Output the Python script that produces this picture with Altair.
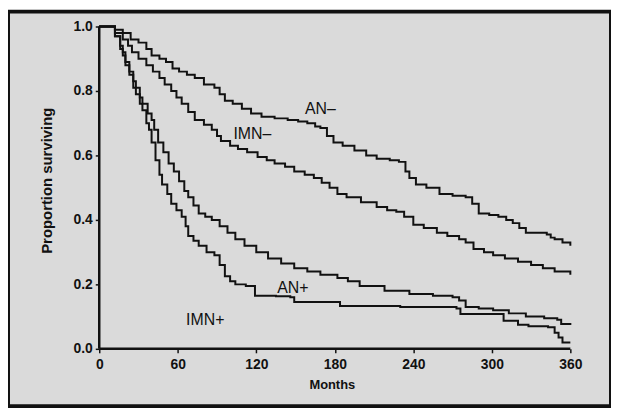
import altair as alt
import pandas as pd

# Kaplan-Meier style curves (months, proportion surviving)
an_minus_m = [0, 8, 12, 18, 24, 30, 36, 40, 46, 51, 56, 61, 67, 73, 80, 88, 92, 96, 102, 109, 116, 124, 134, 144, 152, 159, 165, 169, 174, 179, 186, 195, 204, 212, 222, 229, 234, 237, 242, 250, 260, 270, 280, 285, 290, 298, 305, 311, 316, 321, 326, 334, 342, 345, 348, 354, 360]
an_minus_s = [1.0, 1.0, 0.99, 0.98, 0.96, 0.95, 0.93, 0.91, 0.90, 0.89, 0.87, 0.86, 0.85, 0.84, 0.82, 0.81, 0.79, 0.77, 0.76, 0.745, 0.73, 0.72, 0.715, 0.71, 0.705, 0.70, 0.69, 0.685, 0.66, 0.64, 0.63, 0.615, 0.60, 0.59, 0.585, 0.58, 0.55, 0.53, 0.51, 0.50, 0.48, 0.475, 0.47, 0.45, 0.42, 0.415, 0.41, 0.40, 0.39, 0.375, 0.36, 0.36, 0.355, 0.345, 0.34, 0.33, 0.32]

imn_minus_m = [0, 8, 12, 18, 22, 25, 30, 36, 41, 46, 50, 55, 59, 63, 68, 73, 80, 86, 90, 93, 100, 106, 113, 121, 128, 134, 142, 149, 157, 164, 170, 176, 182, 189, 200, 212, 220, 227, 233, 240, 248, 258, 266, 275, 280, 286, 294, 301, 310, 320, 330, 339, 348, 360]
imn_minus_s = [1.0, 1.0, 0.98, 0.96, 0.94, 0.92, 0.90, 0.88, 0.86, 0.84, 0.82, 0.80, 0.78, 0.76, 0.735, 0.71, 0.695, 0.68, 0.66, 0.645, 0.63, 0.62, 0.61, 0.595, 0.585, 0.575, 0.565, 0.55, 0.54, 0.53, 0.515, 0.50, 0.48, 0.47, 0.455, 0.44, 0.43, 0.425, 0.41, 0.385, 0.375, 0.36, 0.35, 0.34, 0.33, 0.31, 0.30, 0.29, 0.28, 0.27, 0.26, 0.25, 0.24, 0.23]

an_plus_m = [0, 8, 12, 16, 18, 20, 23, 26, 28, 31, 33, 37, 40, 42, 45, 49, 53, 57, 61, 65, 68, 72, 76, 81, 86, 92, 98, 104, 111, 120, 129, 139, 149, 159, 169, 182, 190, 199, 218, 237, 255, 270, 275, 280, 290, 301, 313, 326, 340, 350, 353, 360]
an_plus_s = [1.0, 1.0, 0.97, 0.94, 0.92, 0.89, 0.86, 0.83, 0.81, 0.78, 0.76, 0.73, 0.71, 0.68, 0.64, 0.61, 0.575, 0.55, 0.52, 0.49, 0.47, 0.445, 0.42, 0.41, 0.40, 0.38, 0.36, 0.34, 0.32, 0.30, 0.28, 0.265, 0.25, 0.24, 0.23, 0.22, 0.21, 0.195, 0.18, 0.17, 0.165, 0.16, 0.15, 0.13, 0.125, 0.12, 0.11, 0.10, 0.095, 0.09, 0.077, 0.074]

imn_plus_m = [0, 8, 12, 16, 18, 20, 23, 26, 28, 31, 33, 36, 38, 40, 43, 46, 48, 52, 55, 59, 63, 66, 68, 72, 76, 82, 88, 92, 96, 100, 104, 112, 119, 135, 146, 149, 175, 184, 230, 273, 276, 305, 309, 320, 328, 343, 348, 351, 354, 360]
imn_plus_s = [1.0, 1.0, 0.97, 0.93, 0.91, 0.88, 0.85, 0.81, 0.79, 0.76, 0.74, 0.70, 0.68, 0.64, 0.585, 0.54, 0.51, 0.48, 0.45, 0.43, 0.41, 0.38, 0.35, 0.335, 0.32, 0.30, 0.29, 0.26, 0.225, 0.21, 0.20, 0.195, 0.165, 0.163, 0.16, 0.145, 0.145, 0.133, 0.13, 0.125, 0.108, 0.108, 0.087, 0.075, 0.07, 0.067, 0.05, 0.035, 0.02, 0.02]

label_text = ["AN\u2013", "IMN\u2013", "AN+", "IMN+"]
label_m = [169, 117, 148, 81]
label_s = [0.745, 0.667, 0.19, 0.09]

x_ticks = [0, 60, 120, 180, 240, 300, 360]
y_ticks = [0.0, 0.2, 0.4, 0.6, 0.8, 1.0]

rows = []
for name, ms, ss in [("AN-", an_minus_m, an_minus_s), ("IMN-", imn_minus_m, imn_minus_s),
                     ("AN+", an_plus_m, an_plus_s), ("IMN+", imn_plus_m, imn_plus_s)]:
    for m, s in zip(ms, ss):
        rows.append({"series": name, "month": m, "surv": s})
curves = pd.DataFrame(rows)
labels = pd.DataFrame({"text": label_text, "month": label_m, "surv": label_s})

W, H = 608, 398
x0_px, x1_px = 92, 567      # pixel positions of month 0 and 360 inside the view
y1_px, y0_px = 15, 340      # pixel positions of 1.0 and 0.0 inside the view
kx = (x1_px - x0_px) / 360.0
ky = (y0_px - y1_px) / 1.0
xdom = [-x0_px / kx, (W - x0_px) / kx]
ydom = [-(H - y0_px) / ky, 1.0 + y1_px / ky]

FONT = "Liberation Sans"
INK = "#111111"

xscale = alt.Scale(domain=xdom, nice=False, zero=False)
yscale = alt.Scale(domain=ydom, nice=False, zero=False)

xaxis = alt.Axis(values=x_ticks, format="d", title="Months", domain=False, grid=False,
                 offset=-(H - y0_px), tickSize=4, tickWidth=1.5, tickColor=INK,
                 labelFont=FONT, labelFontSize=14, labelFontWeight="bold", labelColor=INK,
                 labelPadding=5, titleFont=FONT, titleFontSize=13, titleFontWeight="bold",
                 titleColor=INK, titlePadding=7, titleX=(x0_px + x1_px) / 2 - 3,
                 titleAlign="center")
yaxis = alt.Axis(values=y_ticks, format=".1f", title="Proportion surviving", domain=False,
                 grid=False, offset=-x0_px, tickSize=4, tickWidth=1.5, tickColor=INK,
                 labelFont=FONT, labelFontSize=14, labelFontWeight="bold", labelColor=INK,
                 labelPadding=3, titleFont=FONT, titleFontSize=15, titleFontWeight="bold",
                 titleColor=INK, titleX=-53, titleY=170, titleAlign="center",
                 titleBaseline="middle", titleAngle=270)

lines = alt.Chart(curves).mark_line(interpolate="step-after", color=INK, strokeWidth=2).encode(
    x=alt.X("month:Q", scale=xscale, axis=xaxis),
    y=alt.Y("surv:Q", scale=yscale, axis=yaxis),
    detail="series:N",
)

yline = alt.Chart(pd.DataFrame({"x": [0], "y": [0.0], "y2": [1.0]})).mark_rule(
    color=INK, strokeWidth=2.5).encode(
    x=alt.X("x:Q", scale=xscale), y=alt.Y("y:Q", scale=yscale), y2="y2:Q")
xline = alt.Chart(pd.DataFrame({"x": [0], "x2": [360], "y": [0.0]})).mark_rule(
    color=INK, strokeWidth=2.5).encode(
    x=alt.X("x:Q", scale=xscale), x2="x2:Q", y=alt.Y("y:Q", scale=yscale))

text = alt.Chart(labels).mark_text(font=FONT, fontSize=16, color=INK, align="center",
                                   baseline="middle").encode(
    x=alt.X("month:Q", scale=xscale), y=alt.Y("surv:Q", scale=yscale), text="text:N")

chart = alt.layer(yline, xline, lines, text).properties(
    width=W, height=H, autosize="none",
    padding={"left": 0, "top": 2, "right": 0, "bottom": 0},
    background="white",
).configure_view(
    fill="#dadada", stroke="#111111", strokeWidth=4
)

chart.save("out.html", embed_options={"renderer": "svg", "actions": False})
